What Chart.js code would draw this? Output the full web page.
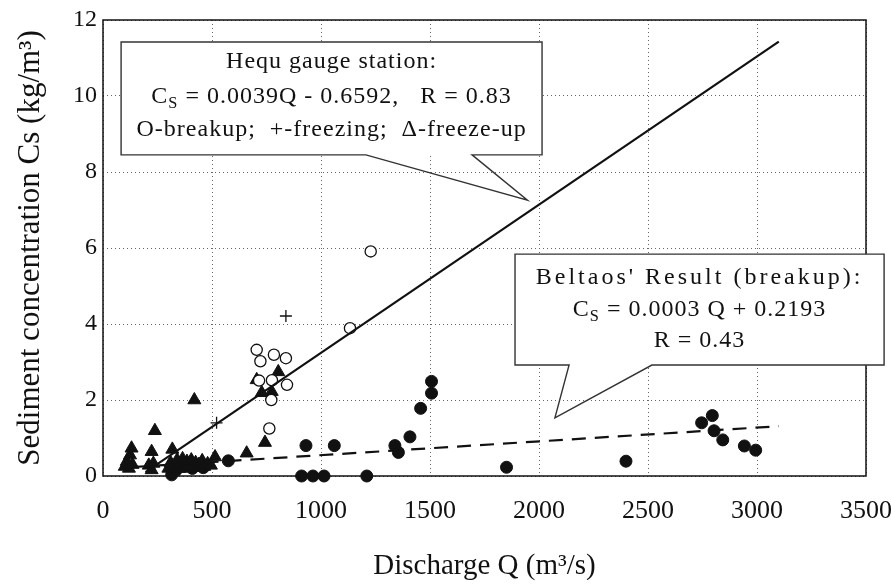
<!DOCTYPE html>
<html>
<head>
<meta charset="utf-8">
<script src="https://cdn.jsdelivr.net/npm/chart.js@4.4.0/dist/chart.umd.min.js"></script>
<style>html,body{margin:0;padding:0;background:#fff}</style>
</head>
<body>
<canvas id="chart" width="891" height="584"></canvas>
<script>
/* data */
const xTicks = [0, 500, 1000, 1500, 2000, 2500, 3000, 3500];
const yTicks = [0, 2, 4, 6, 8, 10, 12];

// O - breakup (Hequ)
const breakupQ = [705, 722, 784, 839, 716, 775, 844, 772, 763, 1133, 1228];
const breakupC = [3.32, 3.02, 3.19, 3.10, 2.51, 2.52, 2.40, 2.00, 1.25, 3.89, 5.91];

// + - freezing
const freezingQ = [839, 521];
const freezingC = [4.21, 1.40];

// triangle - freeze-up
const freezeUpQ = [100, 109, 119, 124, 131, 135, 210, 223, 223, 231, 238, 300, 310, 318, 330, 340, 355, 365, 375, 385, 395, 405, 415, 419, 425, 440, 455, 465, 480, 495, 514, 659, 705, 728, 743, 774, 804];
const freezeUpC = [0.25, 0.38, 0.20, 0.55, 0.73, 0.30, 0.28, 0.64, 0.16, 0.33, 1.19, 0.20, 0.35, 0.70, 0.25, 0.42, 0.30, 0.45, 0.20, 0.38, 0.28, 0.42, 0.22, 2.00, 0.35, 0.30, 0.40, 0.25, 0.32, 0.28, 0.50, 0.60, 2.53, 2.19, 0.88, 2.22, 2.74];

// filled circles - Beltaos breakup
const beltaosQ = [315, 335, 370, 410, 460, 575, 911, 931, 963, 1014, 1061, 1210, 1339, 1355, 1408, 1457, 1507, 1507, 1851, 2399, 2746, 2795, 2803, 2843, 2942, 2994];
const beltaosC = [0.03, 0.15, 0.25, 0.20, 0.22, 0.40, 0.00, 0.80, 0.00, 0.00, 0.80, 0.00, 0.80, 0.62, 1.03, 1.78, 2.18, 2.49, 0.23, 0.39, 1.40, 1.59, 1.19, 0.95, 0.79, 0.68];

// fitted lines (end points)
const hequLineQ = [195, 3100];
const hequLineC = [0.10, 11.43];
const beltaosLineQ = [150, 3100];
const beltaosLineC = [0.24, 1.31];

const pts = (qs, cs) => qs.map((q, i) => ({x: q, y: cs[i]}));
const FONT = "'Liberation Serif', 'Times New Roman', serif";

/* callout boxes, drawn on top of the plot */
function richWidth(ctx, parts, size, spacing) {
    let w = 0;
    parts.forEach(p => {
        ctx.font = (p.sub ? size * 0.68 : size) + 'px ' + FONT;
        ctx.letterSpacing = spacing + 'px';
        w += ctx.measureText(p.t).width;
    });
    return w;
}
function drawRich(ctx, parts, cx, cy, size, spacing) {
    let x = cx - richWidth(ctx, parts, size, spacing) / 2;
    parts.forEach(p => {
        ctx.font = (p.sub ? size * 0.68 : size) + 'px ' + FONT;
        ctx.letterSpacing = spacing + 'px';
        ctx.fillText(p.t, x, p.sub ? cy + size * 0.3 : cy);
        x += ctx.measureText(p.t).width;
    });
}

const callouts = [{
    box: [83, 11.42, 2014, 8.45],   // left, top, right, bottom
    base: [1206, 1693], tip: [1947, 7.26],
    lines: [
        {y: 62, parts: [{t: 'Hequ gauge station:'}]},
        {y: 97, parts: [{t: 'C'}, {t: 'S', sub: true}, {t: ' = 0.0039Q - 0.6592,   R = 0.83'}]},
        {y: 130, parts: [{t: 'O-breakup;  +-freezing;  \u0394-freeze-up'}]}
    ]
}, {
    box: [1890, 5.84, 3583, 2.92],
    base: [2138, 2518], tip: [2073, 1.53],
    lines: [
        {y: 278, parts: [{t: "Beltaos' Result (breakup):"}], spacing: 3},
        {y: 310, parts: [{t: 'C'}, {t: 'S', sub: true}, {t: ' = 0.0003 Q + 0.2193'}]},
        {y: 341, parts: [{t: 'R = 0.43'}]}
    ]
}];

const calloutPlugin = {
    id: 'callouts',
    beforeDatasetsDraw(chart) {
        // plot frame
        const a = chart.chartArea, ctx = chart.ctx;
        ctx.save();
        ctx.strokeStyle = '#111';
        ctx.lineWidth = 1.5;
        ctx.strokeRect(a.left, a.top, a.right - a.left, a.bottom - a.top);
        ctx.restore();
    },
    afterDatasetsDraw(chart) {
        const ctx = chart.ctx, xs = chart.scales.x, ys = chart.scales.y;
        callouts.forEach(c => {
            const l = xs.getPixelForValue(c.box[0]), t = ys.getPixelForValue(c.box[1]);
            const r = xs.getPixelForValue(c.box[2]), b = ys.getPixelForValue(c.box[3]);
            const b1 = xs.getPixelForValue(c.base[0]), b2 = xs.getPixelForValue(c.base[1]);
            const tx = xs.getPixelForValue(c.tip[0]), ty = ys.getPixelForValue(c.tip[1]);
            ctx.save();
            ctx.fillStyle = '#fff';
            ctx.fillRect(l, t, r - l, b - t);
            ctx.beginPath();
            ctx.moveTo(l, t);
            ctx.lineTo(r, t);
            ctx.lineTo(r, b);
            ctx.lineTo(b2, b);
            ctx.lineTo(tx, ty);
            ctx.lineTo(b1, b);
            ctx.lineTo(l, b);
            ctx.closePath();
            ctx.strokeStyle = '#333';
            ctx.lineWidth = 1.4;
            ctx.stroke();
            ctx.fillStyle = '#111';
            ctx.textBaseline = 'middle';
            ctx.textAlign = 'left';
            const cx = (l + r) / 2;
            c.lines.forEach(line => {
                drawRich(ctx, line.parts, cx, line.y, 24, line.spacing !== undefined ? line.spacing : 1);
            });
            ctx.restore();
        });
    }
};

new Chart(document.getElementById('chart'), {
    type: 'scatter',
    data: {
        datasets: [{
            type: 'line',
            label: 'Hequ fit',
            data: pts(hequLineQ, hequLineC),
            borderColor: '#111',
            borderWidth: 2.2,
            pointRadius: 0,
            fill: false
        }, {
            type: 'line',
            label: 'Beltaos fit',
            data: pts(beltaosLineQ, beltaosLineC),
            borderColor: '#111',
            borderWidth: 2.2,
            borderDash: [14, 9],
            pointRadius: 0,
            fill: false
        }, {
            label: 'breakup',
            data: pts(breakupQ, breakupC),
            pointStyle: 'circle',
            pointRadius: 5.6,
            backgroundColor: '#fff',
            borderColor: '#111',
            borderWidth: 1.3
        }, {
            label: 'freezing',
            data: pts(freezingQ, freezingC),
            pointStyle: 'cross',
            pointRadius: 6,
            borderColor: '#111',
            borderWidth: 1.3
        }, {
            label: 'freeze-up',
            data: pts(freezeUpQ, freezeUpC),
            pointStyle: 'triangle',
            pointRadius: 7.5,
            backgroundColor: '#111',
            borderColor: '#111',
            borderWidth: 1
        }, {
            label: 'Beltaos',
            data: pts(beltaosQ, beltaosC),
            pointStyle: 'circle',
            pointRadius: 6,
            backgroundColor: '#111',
            borderColor: '#111',
            borderWidth: 1,
            clip: false
        }]
    },
    options: {
        responsive: false,
        animation: false,
        layout: {padding: {left: 0, top: 20, right: 25, bottom: 0}},
        plugins: {
            legend: {display: false},
            tooltip: {enabled: false}
        },
        scales: {
            x: {
                type: 'linear',
                min: 0,
                max: 3500,
                afterBuildTicks: s => { s.ticks = xTicks.map(v => ({value: v})); },
                afterFit: s => { s.height = 108; s.paddingLeft = 0; s.paddingRight = 0; },
                ticks: {color: '#111', padding: 20, font: {family: FONT, size: 26}, callback: v => String(v)},
                grid: {color: '#666', lineWidth: 1, drawTicks: false},
                border: {display: false, dash: [1, 3]},
                title: {
                    display: true,
                    text: 'Discharge Q (m\u00b3/s)',
                    color: '#111',
                    font: {family: FONT, size: 29},
                    padding: {top: 0, bottom: 0}
                }
            },
            y: {
                type: 'linear',
                min: 0,
                max: 12,
                afterBuildTicks: s => { s.ticks = yTicks.map(v => ({value: v})); },
                afterFit: s => { s.width = 103; s.paddingTop = 0; s.paddingBottom = 0; },
                ticks: {color: '#111', padding: 6, font: {family: FONT, size: 24}, callback: v => String(v)},
                grid: {color: '#666', lineWidth: 1, drawTicks: false},
                border: {display: false, dash: [1, 3]},
                title: {
                    display: true,
                    text: 'Sediment concentration Cs (kg/m\u00b3)',
                    color: '#111',
                    font: {family: FONT, size: 31},
                    padding: {top: 12, bottom: 0}
                }
            }
        }
    },
    plugins: [calloutPlugin]
});
</script>
</body>
</html>
